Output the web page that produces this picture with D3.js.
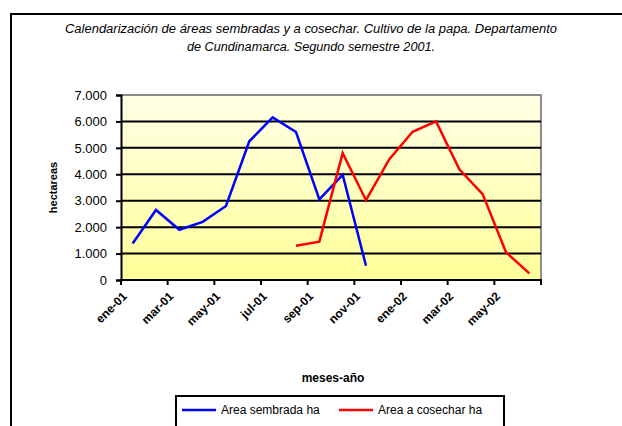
<!DOCTYPE html>
<html>
<head>
<meta charset="utf-8">
<script src="https://cdn.jsdelivr.net/npm/d3@7"></script>
<style>
  body { margin: 0; background: #fff; }
  svg { display: block; }
</style>
</head>
<body>
<div id="chart"></div>
<script>
// chart data
var months = ["ene-01","feb-01","mar-01","abr-01","may-01","jun-01","jul-01","ago-01","sep-01",
              "oct-01","nov-01","dic-01","ene-02","feb-02","mar-02","abr-02","may-02","jun-02"];
var sembrada = [1380, 2650, 1900, 2200, 2800, 5250, 6150, 5600, 3050, 3980, 540,
                null, null, null, null, null, null, null];
var cosechar = [null, null, null, null, null, null, null, 1300, 1450, 4800, 3020,
                4570, 5610, 6000, 4190, 3250, 1050, 250];
var yTicks = [0, 1000, 2000, 3000, 4000, 5000, 6000, 7000];
var xLabels = ["ene-01","mar-01","may-01","jul-01","sep-01","nov-01","ene-02","mar-02","may-02"];
var titleLines = ["Calendarización de áreas sembradas y a cosechar. Cultivo de la papa. Departamento",
                  "de Cundinamarca. Segundo semestre 2001."];
var seriesNames = ["Area sembrada ha", "Area a cosechar ha"];

var W = 622, H = 426;
var plot = {left: 121, right: 541, top: 95, bottom: 280};

var svg = d3.select("#chart").append("svg")
  .attr("width", W)
  .attr("height", H);

// outer chart frame (runs past the right and bottom edge)
svg.append("rect")
  .attr("x", 11).attr("y", 14)
  .attr("width", 640).attr("height", 460)
  .style("fill", "#fff")
  .style("stroke", "#000")
  .style("stroke-width", 2);

// title
svg.selectAll(".title")
  .data(titleLines)
  .enter().append("text")
    .attr("x", 311)
    .attr("y", function(d, i) { return 33 + i * 18; })
    .attr("text-anchor", "middle")
    .attr("textLength", function(d, i) { return i == 0 ? 492 : 248; })
    .attr("lengthAdjust", "spacingAndGlyphs")
    .style("font-family", "Liberation Sans, Arial, sans-serif")
    .style("font-style", "italic")
    .style("font-size", "12px")
    .text(function(d) { return d; });

var x = d3.scaleBand()
  .domain(months)
  .range([plot.left, plot.right]);

var y = d3.scaleLinear()
  .domain([0, 7000])
  .range([plot.bottom, plot.top]);

// plot background gradient
var grad = svg.append("defs").append("linearGradient")
  .attr("id", "bg")
  .attr("x1", 0).attr("y1", 0).attr("x2", 0).attr("y2", 1);
grad.append("stop").attr("offset", "0%").attr("stop-color", "#ffffe6");
grad.append("stop").attr("offset", "100%").attr("stop-color", "#ffff99");

svg.append("rect")
  .attr("x", plot.left).attr("y", plot.top)
  .attr("width", plot.right - plot.left)
  .attr("height", plot.bottom - plot.top)
  .style("fill", "url(#bg)");

// grey border top and right
svg.append("path")
  .attr("d", "M" + plot.left + "," + plot.top + "H" + plot.right + "V" + plot.bottom)
  .style("fill", "none")
  .style("stroke", "#8c8c8c")
  .style("stroke-width", 2);

// gridlines
svg.append("g")
  .selectAll("line")
  .data(yTicks.filter(function(d) { return d > 0 && d < 7000; }))
  .enter().append("line")
    .attr("x1", plot.left).attr("x2", plot.right)
    .attr("y1", function(d) { return y(d); })
    .attr("y2", function(d) { return y(d); })
    .style("stroke", "#000")
    .style("stroke-width", 2);

// y axis
var yAxis = svg.append("g")
  .attr("transform", "translate(" + plot.left + ",0)")
  .call(d3.axisLeft(y)
    .tickValues(yTicks)
    .tickSize(5)
    .tickPadding(9)
    .tickFormat(function(d) { return d == 0 ? "0" : d3.format(",")(d).replace(",", "."); }));
yAxis.select(".domain").style("stroke", "#000").style("stroke-width", 2);
yAxis.selectAll(".tick line").style("stroke", "#000").style("stroke-width", 2);
yAxis.selectAll("text")
  .style("font-family", "Liberation Sans, Arial, sans-serif")
  .style("font-size", "13px")
  .style("fill", "#000");

// x axis: ticks between every two months
var xTickPos = months.filter(function(d, i) { return i % 2 == 0; })
  .map(function(d) { return x(d); })
  .concat([plot.right]);

svg.append("line")
  .attr("x1", plot.left - 1).attr("x2", plot.right + 1)
  .attr("y1", plot.bottom).attr("y2", plot.bottom)
  .style("stroke", "#000")
  .style("stroke-width", 2);

svg.append("g")
  .selectAll("line")
  .data(xTickPos)
  .enter().append("line")
    .attr("x1", function(d) { return d; })
    .attr("x2", function(d) { return d; })
    .attr("y1", plot.bottom)
    .attr("y2", plot.bottom + 5)
    .style("stroke", "#000")
    .style("stroke-width", 2);

svg.append("g")
  .selectAll("text")
  .data(xLabels)
  .enter().append("text")
    .attr("transform", function(d) {
      return "translate(" + (x(d) + x.bandwidth() / 2 - 8) + "," + (plot.bottom + 14) + ") rotate(-45)";
    })
    .attr("text-anchor", "end")
    .attr("dy", "0.35em")
    .style("font-family", "Liberation Sans, Arial, sans-serif")
    .style("font-weight", "bold")
    .style("font-size", "12px")
    .text(function(d) { return d; });

// axis titles
svg.append("text")
  .attr("transform", "translate(57," + ((plot.top + plot.bottom) / 2) + ") rotate(-90)")
  .attr("text-anchor", "middle")
  .style("font-family", "Liberation Sans, Arial, sans-serif")
  .style("font-weight", "bold")
  .style("font-size", "11px")
  .text("hectareas");

svg.append("text")
  .attr("x", 333)
  .attr("y", 382)
  .attr("text-anchor", "middle")
  .style("font-family", "Liberation Sans, Arial, sans-serif")
  .style("font-weight", "bold")
  .style("font-size", "12px")
  .text("meses-año");

// series lines
var line = d3.line()
  .defined(function(d) { return d != null; })
  .x(function(d, i) { return x(months[i]) + x.bandwidth() / 2; })
  .y(function(d) { return y(d); });

svg.append("path")
  .datum(sembrada)
  .attr("d", line)
  .style("fill", "none")
  .style("stroke", "#0000ff")
  .style("stroke-width", 2.5);

svg.append("path")
  .datum(cosechar)
  .attr("d", line)
  .style("fill", "none")
  .style("stroke", "#ff0000")
  .style("stroke-width", 2.5);

// legend
svg.append("rect")
  .attr("x", 176).attr("y", 396)
  .attr("width", 328).attr("height", 60)
  .style("fill", "#fff")
  .style("stroke", "#000")
  .style("stroke-width", 2);

var legColors = ["#0000ff", "#ff0000"];
var legX = [182, 339];
var leg = svg.append("g")
  .selectAll("g")
  .data(seriesNames)
  .enter().append("g")
    .attr("transform", function(d, i) { return "translate(" + legX[i] + ",410)"; });
leg.append("line")
  .attr("x1", 0).attr("x2", 34)
  .style("stroke", function(d, i) { return legColors[i]; })
  .style("stroke-width", 2.5);
leg.append("text")
  .attr("x", 39)
  .attr("dy", "0.35em")
  .style("font-family", "Liberation Sans, Arial, sans-serif")
  .style("font-size", "12px")
  .text(function(d) { return d; });
</script>
</body>
</html>
